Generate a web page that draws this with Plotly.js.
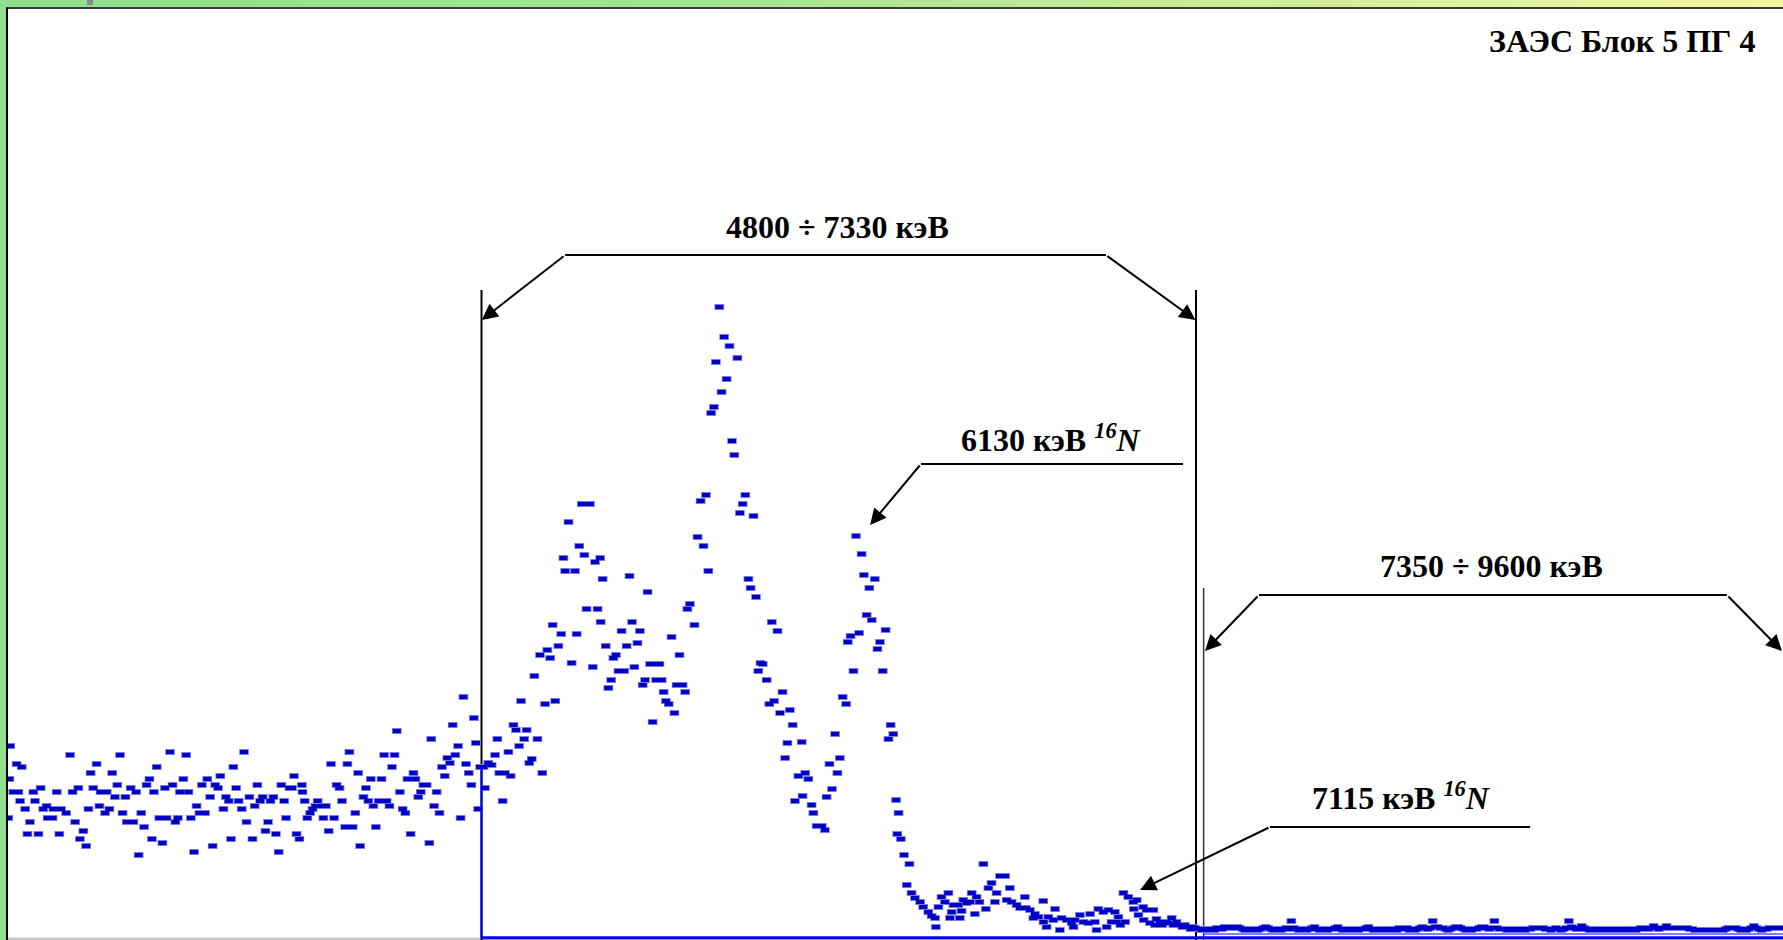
<!DOCTYPE html>
<html><head><meta charset="utf-8">
<script src="https://cdn.plot.ly/plotly-3.0.1.min.js"></script>
<style>
html,body{margin:0;padding:0;width:1783px;height:940px;overflow:hidden;}
body{background:linear-gradient(90deg,#8fe08f 0%,#a3e491 40%,#d3ee9a 75%,#f3f7a0 100%);position:relative;}
#frame{position:absolute;left:6px;top:7px;width:1777px;height:933px;background:#fff;border-top:2px solid #3a3a3a;border-left:2px solid #000;box-sizing:border-box;}
#chart{position:absolute;left:8px;top:9px;width:1775px;height:931px;}
#tab{position:absolute;left:87px;top:0;width:6px;height:5px;background:#8a8a8a;}
</style></head>
<body>
<div id="tab"></div>
<div id="frame"></div>
<div id="chart"></div>
<script>
// ---- spectrum below 4800 keV (energy keV, counts) ----
const lowE = [
3124,3128,3131,3142,3154,3160,3166,3172,3184,3192,
3201,3213,3219,3231,3239,3248,3260,3264,3281,3284,
3296,3305,3311,3329,3343,3352,3361,3372,3378,3390,
3400,3408,3416,3425,3437,3447,3451,3467,3473,3482,
3492,3502,3510,3520,3529,3539,3544,3558,3567,3577,
3586,3595,3605,3614,3624,3633,3640,3650,3659,3670,
3679,3685,3697,3706,3716,3725,3732,3744,3754,3762,
3771,3782,3791,3801,3810,3821,3829,3839,3848,3857,
3867,3875,3886,3895,3905,3913,3921,3931,3940,3951,
3959,3968,3978,3989,3997,4006,4016,4025,4035,4044,
4053,4063,4072,4082,4091,4101,4108,4120,4129,4136,
4145,4155,4164,4166,4174,4183,4193,4202,4212,4220,
4230,4240,4249,4259,4267,4278,4287,4297,4306,4317,
4325,4332,4344,4353,4363,4370,4382,4391,4399,4408,
4417,4426,4436,4446,4455,4464,4474,4483,4492,4500,
4511,4521,4530,4538,4549,4559,4566,4576,4585,4594,
4606,4615,4622,4632,4641,4651,4660,4670,4679,4688,
4698,4707,4717,4726,4736,4745,4755,4764,4773,4780,
4788,4795];
const lowC = [
119,158,191,145,173,145,136,170,128,103,
115,145,136,103,149,128,131,119,119,128,
145,103,128,124,182,145,115,149,98,106,
91,128,164,149,173,131,145,124,145,128,
164,140,152,182,124,140,115,149,115,145,
82,124,110,152,158,98,145,170,119,94,
149,119,185,152,115,119,145,158,182,145,
119,85,131,124,152,124,158,140,91,152,
149,161,128,140,136,98,170,149,136,128,
185,115,140,98,131,152,136,140,106,115,
136,140,103,85,152,136,119,149,149,161,
103,98,152,145,136,119,124,128,131,136,
131,119,131,106,173,119,152,149,136,110,
173,185,110,124,164,91,140,149,136,158,
131,110,136,158,182,136,131,170,182,206,
145,128,124,158,103,164,158,140,145,152,
152,94,198,131,145,124,170,161,179,174,
212,182,191,119,240,173,164,152,219,194,
128,170];
// ---- 4800 - 5930 keV ----
const midE = [
4807,4812,4824,4836,4848,4856,4863,4875,4883,4895,
4903,4913,4922,4933,4940,4951,4960,4969,4978,4987,
4998,5007,5015,5025,5033,5043,5052,5061,5072,5082,
5090,5096,5108,5119,5131,5137,5146,5155,5164,5172,
5184,5194,5202,5211,5220,5222,5229,5240,5249,5259,
5267,5276,5285,5296,5305,5314,5324,5333,5341,5352,
5361,5371,5379,5388,5397,5406,5414,5418,5430,5438,
5445,5453,5463,5473,5483,5491,5501,5512,5521,5529,
5538,5554,5565,5576,5586,5595,5603,5613,5623,5630,
5642,5650,5659,5668,5678,5687,5695,5706,5715,5725,
5734,5745,5753,5763,5772,5780,5788,5796,5810,5819,
5828,5836,5848,5857,5866,5875,5883,5892,5902,5910,
5922];
const midC = [
170,149,174,172,182,198,164,136,164,185,
161,212,207,191,236,198,207,174,178,261,
198,282,164,233,287,279,312,236,291,303,
379,366,415,274,366,303,391,433,382,328,
433,270,375,328,379,315,358,291,249,257,
279,282,266,306,266,291,361,315,270,294,
306,252,257,345,273,215,273,257,273,257,
245,236,233,300,224,252,282,252,245,328,
333,312,400,436,391,442,366,524,530,575,
630,545,600,558,591,496,482,579,424,433,
442,358,349,421,340,266,274,273,257,233,
315,236,306,224,245,179,194,227,212,136,
161];
// ---- 6130 keV line region ----
const n16E = [
5934,5937,5946,5957,5969,5975,5987,6005,6016,6022,
6032,6041,6052,6060,6069,6079,6091,6097,6107,6117,
6126,6137,6146,6154,6164,6173,6182,6193,6202,6211,
6221,6231,6241,6249,6258,6268,6272,6277,6285,6296,
6306,6315];
const n16C = [
195,141,164,158,132,124,111,111,107,140,
173,148,203,164,179,240,233,295,301,266,
401,304,383,362,322,349,317,358,288,295,
266,307,198,212,203,137,103,124,98,82,
52,73];
// ---- 6320 - 7330 keV ----
const hiE = [
6323,6335,6353,6364,6382,6394,6406,6409,6418,6429,
6441,6453,6459,6465,6471,6488,6494,6500,6506,6518,
6530,6536,6547,6553,6563,6577,6586,6595,6606,6618,
6624,6636,6654,6660,6671,6677,6695,6707,6724,6728,
6742,6754,6760,6772,6789,6790,6801,6807,6825,6831,
6848,6854,6872,6890,6896,6901,6919,6931,6949,6955,
6972,6978,6984,7002,7014,7020,7031,7043,7049,7055,
7062,7073,7079,7090,7108,7110,7120,7126,7143,7145,
7155,7167,7179,7185,7190,7202,7210,7226,7232,7244,
7250,7261,7273,7282,7291,7303,7311,7320,7328];
const hiC = [
44,39,35,30,25,21,19,10,30,40,
35,44,19,25,32,32,19,26,37,34,
35,44,23,40,35,73,28,49,54,35,
44,61,61,37,49,35,32,29,40,29,
27,19,23,20,36,15,10,20,17,28,
7,19,17,14,10,17,22,15,14,23,
15,7,28,25,10,27,15,25,15,20,
12,44,15,40,35,28,37,22,30,17,
27,14,27,12,18,15,12,15,14,19,
12,15,12,10,12,10,8,10,9];
// ---- tail above 7340 keV: channel counts, calibration start/step ----
const tailStartKeV = 7340, tailStepKeV = 9.1;
const tailC = [
8,7,8,7,7,8,7, 9,9,8, 10,9,10,10,9,10,9,8, 7,8,7,7,8,7,8,9, 10,9,
8,7,7,8,7,8,9,8, 16, 9,8,7,7,8,7,8,9, 10, 8,7,8,7,7,8,8,9, 10,
8,7,7,8,7,8,7,7,8,8,9, 10, 8,7,7,8,7,8,7,7,8,8,7,9, 9,8,9,7,8,7,8,9,
10,9,8,9,16,10,10,9,9, 8,7,8,9, 10,10,9, 8,7,8,7,8,8,9,
10,10,9,8,9,16,9,8,8, 8,7,8,7,8,8,7,8,7,8,8,9, 9,9,9,9,8,8,7,8,
9,8,7,8,9,16,10,9,8,8, 11, 9,8,7,8,8,7,8,7,8,7,8,
8,7,8,7,8,7,7,8,7,7,8,9, 8,9,8,9, 11, 9,8,9,9, 11,
9,9,9,9,9,9,9,9,8,8, 7,7,7,7,7,7,7,7,7,7,7,7,8, 9,9,9,9,8,
7,8,7,8,9, 11, 9,8,7,8,8, 9,9,9,9,9];
const tailE = tailC.map((c,i)=>tailStartKeV + i*tailStepKeV);

// ---- windows / labels ----
const roiEdgesKeV = [4800, 7330, 7357];
const labels = ['<b>4800 ÷ 7330 кэВ</b>', '<b>6130 кэВ <sup><i>16</i></sup><i>N</i></b>',
                '<b>7350 ÷ 9600 кэВ</b>', '<b>7115 кэВ <sup><i>16</i></sup><i>N</i></b>'];
const titleText = '<b>ЗАЭС Блок 5 ПГ 4</b>';

const X = [].concat(lowE, midE, n16E, hiE, tailE);
const Y = [].concat(lowC, midC, n16C, hiC, tailC);

// each channel drawn as a short thick horizontal dash with a soft edge
const haloTrace = {
  x: X, y: Y, type: 'scatter', mode: 'markers', hoverinfo: 'skip',
  marker: {size: 2, color: 'rgba(0,0,0,0)'},
  error_x: {type: 'constant', value: 17.0, symmetric: true, thickness: 6, width: 0, color: '#7a7ae8'}
};
const coreTrace = {
  x: X, y: Y, type: 'scatter', mode: 'markers', hoverinfo: 'skip',
  marker: {size: 2, color: 'rgba(0,0,0,0)'},
  error_x: {type: 'constant', value: 14.2, symmetric: true, thickness: 4, width: 0, color: '#0000c4'}
};

const fnt = {family: '"Liberation Serif", "Times New Roman", serif', size: 32, color: '#000'};
const xmin = 3123.3, xmax = 9408.6;

function vline(x, ytop, color, w, layer) {
  return {type:'line', xref:'x', yref:'y', x0:x, x1:x, y0:-3, y1:ytop, line:{color:color, width:w}, layer:layer||'above'};
}
function hline(x0, x1, y) {
  return {type:'line', xref:'x', yref:'y', x0:x0, x1:x1, y0:y, y1:y, line:{color:'#000', width:2}};
}
function arrow(x, y, ax, ay) {
  return {x:x, y:y, ax:ax, ay:ay, xref:'x', yref:'y', axref:'x', ayref:'y', text:'',
    showarrow:true, arrowhead:2, arrowsize:1.6, arrowwidth:2, arrowcolor:'#000', standoff:0, startstandoff:0};
}
function label(t, x, y) {
  return {text:t, x:x, y:y, xref:'x', yref:'y', showarrow:false, font:fnt, xanchor:'center', yanchor:'middle'};
}

const layout = {
  width: 1775, height: 931,
  margin: {l:0, r:0, t:0, b:0},
  paper_bgcolor: 'rgba(0,0,0,0)', plot_bgcolor: '#ffffff',
  showlegend: false,
  xaxis: {range: [xmin, xmax], visible: false, fixedrange: true},
  yaxis: {range: [-3, 928], visible: false, fixedrange: true},
  shapes: [
    {type:'line', xref:'paper', yref:'y', x0:0, x1:1, y0:-2, y1:-2, line:{color:'#c8c8c8', width:3}, layer:'below'},
    vline(roiEdgesKeV[0], 647, '#000', 2, 'below'),
    vline(roiEdgesKeV[1], 647, '#000', 2, 'below'),
    vline(roiEdgesKeV[2], 349, '#333', 1.5, 'below'),
    {type:'line', xref:'x', yref:'y', x0:roiEdgesKeV[0], x1:xmax, y0:-0.8, y1:-0.8, line:{color:'#0000ff', width:3}},
    {type:'line', xref:'x', yref:'y', x0:roiEdgesKeV[2], x1:xmax, y0:3, y1:3, line:{color:'#0000ff', width:1}},
    {type:'line', xref:'x', yref:'y', x0:roiEdgesKeV[0], x1:roiEdgesKeV[0], y0:-1, y1:170, line:{color:'#0000ff', width:2}},
    hline(5096, 7011, 682),
    hline(6356, 7284, 473),
    hline(7553, 9210, 342),
    hline(7592, 8513, 110)
  ],
  annotations: [
    arrow(4801, 617, 5096, 682),
    arrow(7328, 617, 7011, 682),
    arrow(6176, 412, 6356, 473),
    arrow(7362, 286, 7553, 342),
    arrow(9405, 286, 9210, 342),
    arrow(7132, 47, 7592, 110),
    label(labels[0], 6059, 710),
    label(labels[1], 6820, 499),
    label(labels[2], 8378, 371),
    label(labels[3], 8056, 141),
    {text:titleText, xref:'paper', yref:'paper', x:(1757-8)/1775, y:(940-41)/931, xanchor:'right', yanchor:'middle', showarrow:false, font:fnt}
  ]
};

Plotly.newPlot('chart', [haloTrace, coreTrace], layout, {displayModeBar:false, staticPlot:true});
</script>
</body></html>
